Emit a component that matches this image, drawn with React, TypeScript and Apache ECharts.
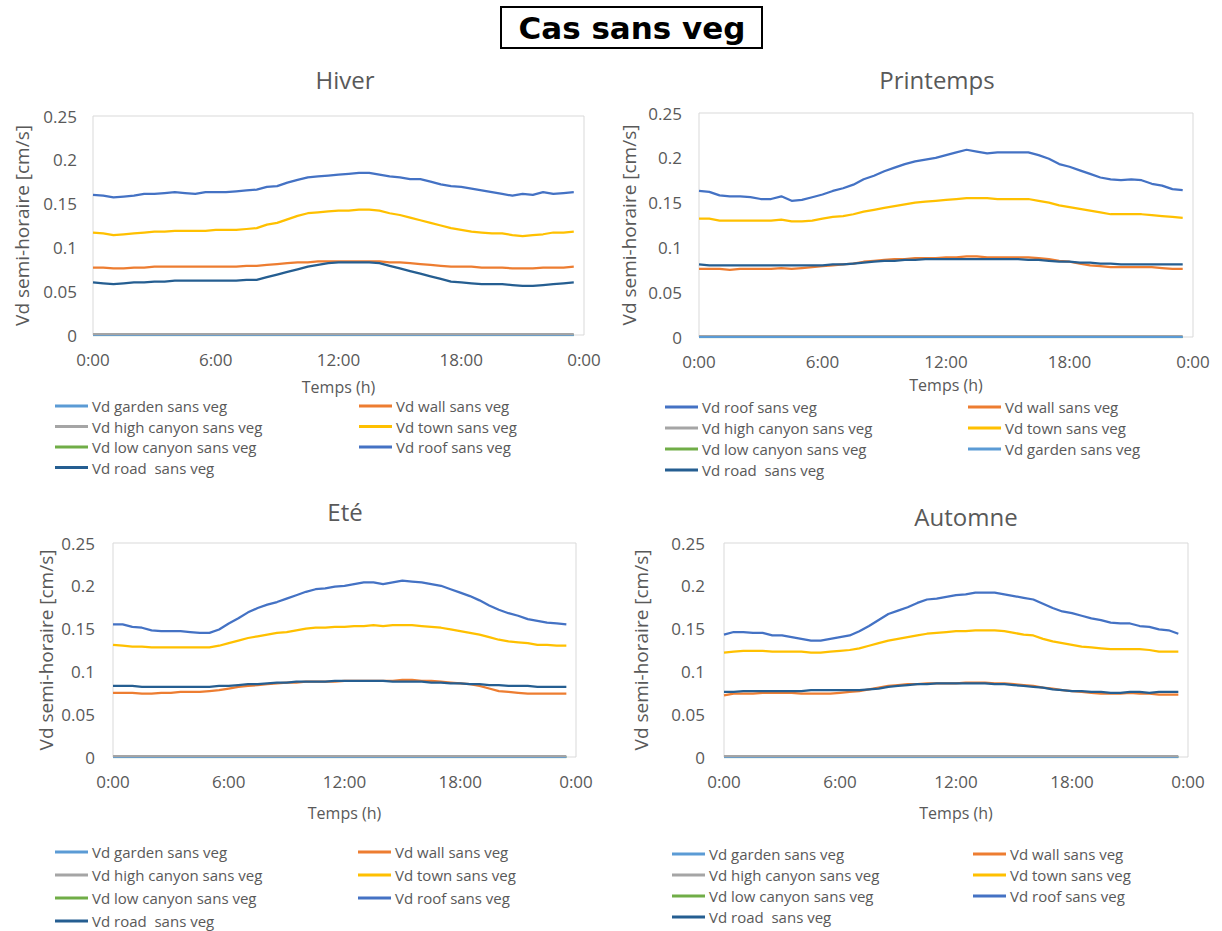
import React, { useEffect, useRef } from "react";
import * as echarts from "echarts";

// Half-hour time steps (hours)
const HOURS = [0, 0.5, 1, 1.5, 2, 2.5, 3, 3.5, 4, 4.5, 5, 5.5, 6, 6.5, 7, 7.5, 8, 8.5, 9, 9.5, 10, 10.5, 11, 11.5,
  12, 12.5, 13, 13.5, 14, 14.5, 15, 15.5, 16, 16.5, 17, 17.5, 18, 18.5, 19, 19.5, 20, 20.5, 21, 21.5, 22, 22.5, 23, 23.5];

const X_TICKS = ["0:00", "6:00", "12:00", "18:00", "0:00"];

// Near-zero series (same in every season)
const gardenAll = [0, 0, 0, 0, 0, 0, 0, 0, 0, 0, 0, 0, 0, 0, 0, 0, 0, 0, 0, 0, 0, 0, 0, 0,
  0, 0, 0, 0, 0, 0, 0, 0, 0, 0, 0, 0, 0, 0, 0, 0, 0, 0, 0, 0, 0, 0, 0, 0];
const highCanyonAll = [0.001, 0.001, 0.001, 0.001, 0.001, 0.001, 0.001, 0.001, 0.001, 0.001, 0.001, 0.001, 0.001, 0.001, 0.001, 0.001, 0.001, 0.001, 0.001, 0.001, 0.001, 0.001, 0.001, 0.001,
  0.001, 0.001, 0.001, 0.001, 0.001, 0.001, 0.001, 0.001, 0.001, 0.001, 0.001, 0.001, 0.001, 0.001, 0.001, 0.001, 0.001, 0.001, 0.001, 0.001, 0.001, 0.001, 0.001, 0.001];
const lowCanyonAll = [0, 0, 0, 0, 0, 0, 0, 0, 0, 0, 0, 0, 0, 0, 0, 0, 0, 0, 0, 0, 0, 0, 0, 0,
  0, 0, 0, 0, 0, 0, 0, 0, 0, 0, 0, 0, 0, 0, 0, 0, 0, 0, 0, 0, 0, 0, 0, 0];

// Hiver
const roofHiver = [0.160, 0.159, 0.157, 0.158, 0.159, 0.161, 0.161, 0.162, 0.163, 0.162, 0.161, 0.163, 0.163, 0.163, 0.164, 0.165, 0.166, 0.169, 0.170, 0.174, 0.177, 0.180, 0.181, 0.182,
  0.183, 0.184, 0.185, 0.185, 0.183, 0.181, 0.180, 0.178, 0.178, 0.175, 0.172, 0.170, 0.169, 0.167, 0.165, 0.163, 0.161, 0.159, 0.161, 0.160, 0.163, 0.161, 0.162, 0.163];
const townHiver = [0.117, 0.116, 0.114, 0.115, 0.116, 0.117, 0.118, 0.118, 0.119, 0.119, 0.119, 0.119, 0.120, 0.120, 0.120, 0.121, 0.122, 0.126, 0.128, 0.132, 0.136, 0.139, 0.140, 0.141,
  0.142, 0.142, 0.143, 0.143, 0.142, 0.139, 0.137, 0.134, 0.131, 0.128, 0.125, 0.122, 0.120, 0.118, 0.117, 0.116, 0.116, 0.114, 0.113, 0.114, 0.115, 0.117, 0.117, 0.118];
const wallHiver = [0.077, 0.077, 0.076, 0.076, 0.077, 0.077, 0.078, 0.078, 0.078, 0.078, 0.078, 0.078, 0.078, 0.078, 0.078, 0.079, 0.079, 0.080, 0.081, 0.082, 0.083, 0.083, 0.084, 0.084,
  0.084, 0.084, 0.084, 0.084, 0.084, 0.083, 0.083, 0.082, 0.081, 0.080, 0.079, 0.078, 0.078, 0.078, 0.077, 0.077, 0.077, 0.076, 0.076, 0.076, 0.077, 0.077, 0.077, 0.078];
const roadHiver = [0.060, 0.059, 0.058, 0.059, 0.060, 0.060, 0.061, 0.061, 0.062, 0.062, 0.062, 0.062, 0.062, 0.062, 0.062, 0.063, 0.063, 0.066, 0.069, 0.072, 0.075, 0.078, 0.080, 0.082,
  0.083, 0.083, 0.083, 0.083, 0.082, 0.079, 0.076, 0.073, 0.070, 0.067, 0.064, 0.061, 0.060, 0.059, 0.058, 0.058, 0.058, 0.057, 0.056, 0.056, 0.057, 0.058, 0.059, 0.060];

// Printemps
const roofPrintemps = [0.163, 0.162, 0.158, 0.157, 0.157, 0.156, 0.154, 0.154, 0.157, 0.152, 0.153, 0.156, 0.159, 0.163, 0.166, 0.170, 0.176, 0.180, 0.185, 0.189, 0.193, 0.196, 0.198, 0.200,
  0.203, 0.206, 0.209, 0.207, 0.205, 0.206, 0.206, 0.206, 0.206, 0.203, 0.199, 0.193, 0.190, 0.186, 0.182, 0.178, 0.176, 0.175, 0.176, 0.175, 0.171, 0.169, 0.165, 0.164];
const townPrintemps = [0.132, 0.132, 0.130, 0.130, 0.130, 0.130, 0.130, 0.130, 0.131, 0.129, 0.129, 0.130, 0.132, 0.134, 0.135, 0.137, 0.140, 0.142, 0.144, 0.146, 0.148, 0.150, 0.151, 0.152,
  0.153, 0.154, 0.155, 0.155, 0.155, 0.154, 0.154, 0.154, 0.154, 0.152, 0.150, 0.147, 0.145, 0.143, 0.141, 0.139, 0.137, 0.137, 0.137, 0.137, 0.136, 0.135, 0.134, 0.133];
const wallPrintemps = [0.076, 0.076, 0.076, 0.075, 0.076, 0.076, 0.076, 0.076, 0.077, 0.076, 0.077, 0.078, 0.079, 0.080, 0.081, 0.082, 0.084, 0.085, 0.086, 0.087, 0.087, 0.088, 0.088, 0.088,
  0.089, 0.089, 0.090, 0.090, 0.089, 0.089, 0.089, 0.089, 0.089, 0.088, 0.087, 0.085, 0.084, 0.082, 0.080, 0.079, 0.078, 0.078, 0.078, 0.078, 0.078, 0.077, 0.076, 0.076];
const roadPrintemps = [0.081, 0.080, 0.080, 0.080, 0.080, 0.080, 0.080, 0.080, 0.080, 0.080, 0.080, 0.080, 0.080, 0.081, 0.081, 0.082, 0.083, 0.084, 0.085, 0.085, 0.086, 0.086, 0.087, 0.087,
  0.087, 0.087, 0.087, 0.087, 0.087, 0.087, 0.087, 0.087, 0.086, 0.086, 0.085, 0.084, 0.084, 0.083, 0.083, 0.082, 0.082, 0.081, 0.081, 0.081, 0.081, 0.081, 0.081, 0.081];

// Eté
const roofEte = [0.155, 0.155, 0.152, 0.151, 0.148, 0.147, 0.147, 0.147, 0.146, 0.145, 0.145, 0.149, 0.156, 0.162, 0.169, 0.174, 0.178, 0.181, 0.185, 0.189, 0.193, 0.196, 0.197, 0.199,
  0.200, 0.202, 0.204, 0.204, 0.202, 0.204, 0.206, 0.205, 0.204, 0.202, 0.200, 0.196, 0.192, 0.188, 0.183, 0.177, 0.172, 0.168, 0.165, 0.161, 0.159, 0.157, 0.156, 0.155];
const townEte = [0.131, 0.130, 0.129, 0.129, 0.128, 0.128, 0.128, 0.128, 0.128, 0.128, 0.128, 0.130, 0.133, 0.136, 0.139, 0.141, 0.143, 0.145, 0.146, 0.148, 0.150, 0.151, 0.151, 0.152,
  0.152, 0.153, 0.153, 0.154, 0.153, 0.154, 0.154, 0.154, 0.153, 0.152, 0.151, 0.149, 0.147, 0.145, 0.143, 0.140, 0.137, 0.135, 0.134, 0.133, 0.131, 0.131, 0.130, 0.130];
const wallEte = [0.075, 0.075, 0.075, 0.074, 0.074, 0.075, 0.075, 0.076, 0.076, 0.076, 0.077, 0.078, 0.080, 0.082, 0.083, 0.084, 0.085, 0.086, 0.087, 0.087, 0.088, 0.088, 0.088, 0.088,
  0.089, 0.089, 0.089, 0.089, 0.089, 0.089, 0.090, 0.090, 0.089, 0.089, 0.088, 0.087, 0.086, 0.085, 0.083, 0.080, 0.077, 0.076, 0.075, 0.074, 0.074, 0.074, 0.074, 0.074];
const roadEte = [0.083, 0.083, 0.083, 0.082, 0.082, 0.082, 0.082, 0.082, 0.082, 0.082, 0.082, 0.083, 0.083, 0.084, 0.085, 0.085, 0.086, 0.087, 0.087, 0.088, 0.088, 0.088, 0.088, 0.089,
  0.089, 0.089, 0.089, 0.089, 0.089, 0.088, 0.088, 0.088, 0.088, 0.087, 0.087, 0.086, 0.086, 0.085, 0.085, 0.084, 0.084, 0.083, 0.083, 0.083, 0.082, 0.082, 0.082, 0.082];

// Automne
const roofAutomne = [0.143, 0.146, 0.146, 0.145, 0.145, 0.142, 0.142, 0.140, 0.138, 0.136, 0.136, 0.138, 0.140, 0.142, 0.147, 0.153, 0.160, 0.167, 0.171, 0.175, 0.180, 0.184, 0.185, 0.187,
  0.189, 0.190, 0.192, 0.192, 0.192, 0.190, 0.188, 0.186, 0.184, 0.179, 0.174, 0.170, 0.168, 0.165, 0.162, 0.160, 0.157, 0.156, 0.156, 0.153, 0.152, 0.149, 0.148, 0.144];
const townAutomne = [0.122, 0.123, 0.124, 0.124, 0.124, 0.123, 0.123, 0.123, 0.123, 0.122, 0.122, 0.123, 0.124, 0.125, 0.127, 0.130, 0.133, 0.136, 0.138, 0.140, 0.142, 0.144, 0.145, 0.146,
  0.147, 0.147, 0.148, 0.148, 0.148, 0.147, 0.145, 0.143, 0.142, 0.138, 0.135, 0.133, 0.131, 0.129, 0.128, 0.127, 0.126, 0.126, 0.126, 0.126, 0.125, 0.123, 0.123, 0.123];
const wallAutomne = [0.072, 0.074, 0.074, 0.074, 0.075, 0.075, 0.075, 0.075, 0.074, 0.074, 0.074, 0.074, 0.075, 0.076, 0.077, 0.079, 0.081, 0.083, 0.084, 0.085, 0.085, 0.086, 0.086, 0.086,
  0.086, 0.087, 0.087, 0.087, 0.086, 0.086, 0.085, 0.084, 0.083, 0.081, 0.080, 0.078, 0.077, 0.076, 0.075, 0.074, 0.074, 0.074, 0.075, 0.074, 0.074, 0.073, 0.073, 0.073];
const roadAutomne = [0.076, 0.076, 0.077, 0.077, 0.077, 0.077, 0.077, 0.077, 0.077, 0.078, 0.078, 0.078, 0.078, 0.078, 0.078, 0.079, 0.080, 0.082, 0.083, 0.084, 0.085, 0.085, 0.086, 0.086,
  0.086, 0.086, 0.086, 0.086, 0.085, 0.085, 0.084, 0.083, 0.082, 0.081, 0.079, 0.078, 0.077, 0.077, 0.076, 0.076, 0.075, 0.075, 0.076, 0.076, 0.075, 0.076, 0.076, 0.076];

const N_GARDEN = "Vd garden sans veg";
const N_WALL = "Vd wall sans veg";
const N_HIGH = "Vd high canyon sans veg";
const N_TOWN = "Vd town sans veg";
const N_LOW = "Vd low canyon sans veg";
const N_ROOF = "Vd roof sans veg";
const N_ROAD = "Vd road  sans veg";

const COLORS: Record<string, string> = {
  [N_GARDEN]: "#5B9BD5",
  [N_WALL]: "#ED7D31",
  [N_HIGH]: "#A5A5A5",
  [N_TOWN]: "#FFC000",
  [N_LOW]: "#70AD47",
  [N_ROOF]: "#4472C4",
  [N_ROAD]: "#255E91",
};

const FONT = "Open Sans";
const TXT = "#595959";

type Panel = {
  title: string;
  titleX: number;
  titleY: number;
  grid: { left: number; top: number; width: number; height: number };
  yLabelMargin: number;
  yNameGap: number;
  xNameGap: number;
  order: string[];
  values: Record<string, number[]>;
  legendLeft: [number, number];
  legendTop: number;
  legendGap: number;
};

const panels: Panel[] = [
  {
    title: "Hiver", titleX: 345, titleY: 79,
    grid: { left: 93, top: 116, width: 491, height: 219 },
    yLabelMargin: 16, yNameGap: 62, xNameGap: 44,
    order: [N_GARDEN, N_WALL, N_HIGH, N_TOWN, N_LOW, N_ROOF, N_ROAD],
    values: { [N_GARDEN]: gardenAll, [N_WALL]: wallHiver, [N_HIGH]: highCanyonAll, [N_TOWN]: townHiver, [N_LOW]: lowCanyonAll, [N_ROOF]: roofHiver, [N_ROAD]: roadHiver },
    legendLeft: [55, 359], legendTop: 397, legendGap: 2.5,
  },
  {
    title: "Printemps", titleX: 937, titleY: 79,
    grid: { left: 699, top: 113, width: 494, height: 224 },
    yLabelMargin: 17, yNameGap: 61, xNameGap: 40,
    order: [N_ROOF, N_WALL, N_HIGH, N_TOWN, N_LOW, N_GARDEN, N_ROAD],
    values: { [N_GARDEN]: gardenAll, [N_WALL]: wallPrintemps, [N_HIGH]: highCanyonAll, [N_TOWN]: townPrintemps, [N_LOW]: lowCanyonAll, [N_ROOF]: roofPrintemps, [N_ROAD]: roadPrintemps },
    legendLeft: [665, 968], legendTop: 398, legendGap: 3,
  },
  {
    title: "Eté", titleX: 345, titleY: 511,
    grid: { left: 113, top: 543, width: 463, height: 214 },
    yLabelMargin: 18, yNameGap: 58, xNameGap: 48,
    order: [N_GARDEN, N_WALL, N_HIGH, N_TOWN, N_LOW, N_ROOF, N_ROAD],
    values: { [N_GARDEN]: gardenAll, [N_WALL]: wallEte, [N_HIGH]: highCanyonAll, [N_TOWN]: townEte, [N_LOW]: lowCanyonAll, [N_ROOF]: roofEte, [N_ROAD]: roadEte },
    legendLeft: [55, 358], legendTop: 843, legendGap: 5,
  },
  {
    title: "Automne", titleX: 966, titleY: 516,
    grid: { left: 724, top: 543, width: 464, height: 214 },
    yLabelMargin: 19, yNameGap: 74, xNameGap: 48,
    order: [N_GARDEN, N_WALL, N_HIGH, N_TOWN, N_LOW, N_ROOF, N_ROAD],
    values: { [N_GARDEN]: gardenAll, [N_WALL]: wallAutomne, [N_HIGH]: highCanyonAll, [N_TOWN]: townAutomne, [N_LOW]: lowCanyonAll, [N_ROOF]: roofAutomne, [N_ROAD]: roadAutomne },
    legendLeft: [672, 973], legendTop: 845, legendGap: 3,
  },
];

export default function App() {
  const ref = useRef<HTMLDivElement>(null);
  useEffect(() => {
    if (!ref.current) return;
    const chart = echarts.init(ref.current, null, { renderer: "svg" });

    const grids: any[] = [];
    const xAxes: any[] = [];
    const yAxes: any[] = [];
    const series: any[] = [];
    const legends: any[] = [];
    const graphics: any[] = [
      {
        type: "rect",
        shape: { x: 501, y: 7, width: 261, height: 41 },
        style: { fill: "#ffffff", stroke: "#000000", lineWidth: 2 },
      },
      {
        type: "text",
        x: 632,
        y: 28,
        style: {
          text: "Cas sans veg",
          font: "bold 31px 'DejaVu Sans'",
          fill: "#000000",
          textAlign: "center",
          textVerticalAlign: "middle",
        },
      },
    ];

    panels.forEach((p, i) => {
      grids.push({ ...p.grid, show: true, borderColor: "#D9D9D9", borderWidth: 1, backgroundColor: "#fff" });
      xAxes.push({
        type: "value", gridIndex: i, min: 0, max: 24, interval: 6,
        axisLine: { show: false }, axisTick: { show: false }, splitLine: { show: false },
        axisLabel: {
          fontFamily: FONT, fontSize: 17, color: TXT, margin: 16,
          formatter: (v: number) => X_TICKS[Math.round(v / 6)] ?? "",
        },
        name: "Temps (h)", nameLocation: "middle", nameGap: p.xNameGap,
        nameTextStyle: { fontFamily: FONT, fontSize: 16, color: TXT },
      });
      yAxes.push({
        type: "value", gridIndex: i, min: 0, max: 0.25, interval: 0.05,
        axisLine: { show: false }, axisTick: { show: false }, splitLine: { show: false },
        axisLabel: {
          fontFamily: FONT, fontSize: 17, color: TXT, margin: p.yLabelMargin,
          formatter: (v: number) => String(parseFloat(v.toFixed(2))),
        },
        name: "Vd semi-horaire [cm/s]", nameLocation: "middle", nameGap: p.yNameGap, nameRotate: 90,
        nameTextStyle: { fontFamily: FONT, fontSize: 19, color: TXT },
      });
      p.order.forEach((name) => {
        const vals = p.values[name];
        series.push({
          type: "line", name, xAxisIndex: i, yAxisIndex: i,
          data: HOURS.map((h, k) => [h, vals[k]]),
          showSymbol: false, symbol: "none",
          z: name === N_LOW ? 1 : 2,
          lineStyle: { width: 2.25, color: COLORS[name] },
          itemStyle: { color: COLORS[name] },
          silent: true,
        });
      });
      const leftCol = p.order.filter((_, k) => k % 2 === 0);
      const rightCol = p.order.filter((_, k) => k % 2 === 1);
      [leftCol, rightCol].forEach((names, c) => {
        legends.push({
          data: names,
          orient: "vertical",
          left: p.legendLeft[c],
          top: p.legendTop,
          itemGap: p.legendGap,
          itemWidth: 33,
          itemHeight: 3,
          icon: "rect",
          selectedMode: false,
          padding: 0,
          textStyle: { fontFamily: FONT, fontSize: 15, color: TXT, lineHeight: 18, padding: [0, 0, 0, -1] },
        });
      });
      graphics.push({
        type: "text",
        x: p.titleX,
        y: p.titleY,
        style: {
          text: p.title,
          font: `24px '${FONT}'`,
          fill: TXT,
          textAlign: "center",
          textVerticalAlign: "middle",
        },
      });
    });

    chart.setOption({
      animation: false,
      backgroundColor: "#ffffff",
      textStyle: { fontFamily: FONT },
      grid: grids,
      xAxis: xAxes,
      yAxis: yAxes,
      legend: legends,
      series,
      graphic: graphics,
    });
    return () => chart.dispose();
  }, []);

  return (
    <div
      ref={ref}
      style={{ position: "fixed", left: 0, top: 0, width: 1222, height: 931, background: "#fff" }}
    />
  );
}
